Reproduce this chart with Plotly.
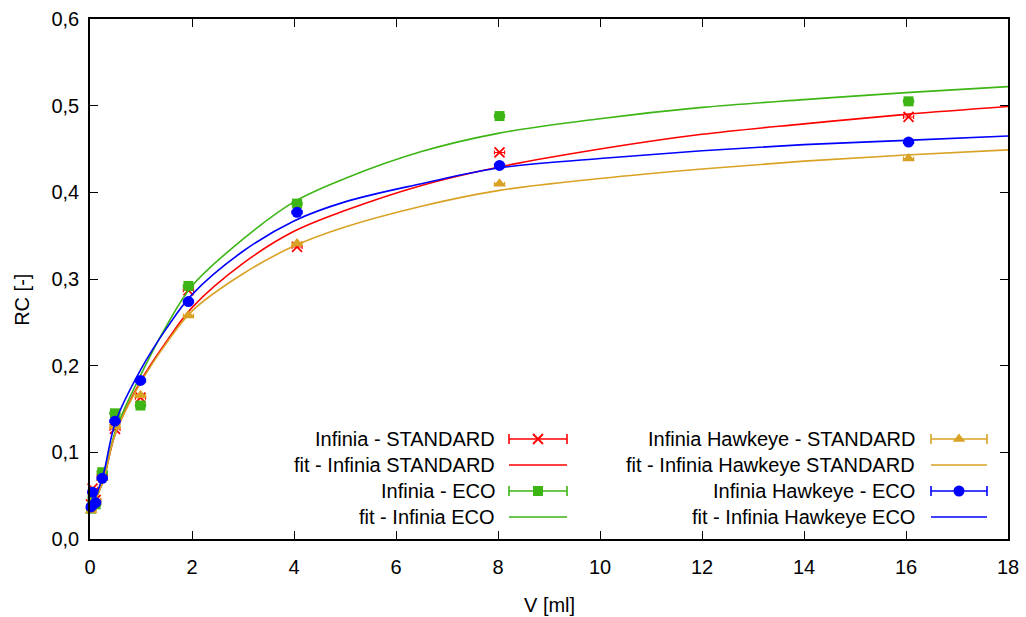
import plotly.graph_objects as go

# ---- data ----
V = [0.02, 0.05, 0.11, 0.24, 0.49, 0.99, 1.93, 4.06, 8.03, 16.05]
V_err = [0.1, 0.1, 0.1, 0.1, 0.1, 0.1, 0.1, 0.1, 0.1, 0.1]

rc_inf_std = [0.040, 0.058, 0.045, 0.073, 0.127, 0.163, 0.287, 0.337, 0.446, 0.487]
rc_inf_eco = [0.035, 0.045, 0.040, 0.077, 0.145, 0.154, 0.292, 0.387, 0.488, 0.505]
rc_hawk_std = [0.033, 0.040, 0.045, 0.070, 0.130, 0.166, 0.258, 0.341, 0.410, 0.439]
rc_hawk_eco = [0.037, 0.054, 0.042, 0.070, 0.136, 0.183, 0.274, 0.377, 0.431, 0.458]

V_fit = [0, 0.25, 0.5, 1, 1.5, 2, 3, 4, 5, 6.5, 8, 10, 12, 14, 16, 18]
fit_inf_std = [0.033, 0.066, 0.122, 0.183, 0.228, 0.267, 0.318, 0.355, 0.379, 0.408, 0.429, 0.450, 0.467, 0.479, 0.490, 0.499]
fit_inf_eco = [0.033, 0.066, 0.125, 0.190, 0.246, 0.292, 0.346, 0.389, 0.416, 0.447, 0.468, 0.485, 0.498, 0.507, 0.515, 0.522]
fit_hawk_std = [0.033, 0.066, 0.122, 0.181, 0.226, 0.263, 0.306, 0.338, 0.360, 0.384, 0.402, 0.416, 0.427, 0.436, 0.443, 0.449]
fit_hawk_eco = [0.033, 0.072, 0.135, 0.196, 0.243, 0.282, 0.332, 0.367, 0.389, 0.410, 0.428, 0.439, 0.448, 0.455, 0.460, 0.465]

x_ticks = [0, 2, 4, 6, 8, 10, 12, 14, 16, 18]
y_ticks = [0.0, 0.1, 0.2, 0.3, 0.4, 0.5, 0.6]

labels = ["Infinia - STANDARD", "fit - Infinia STANDARD",
          "Infinia - ECO", "fit - Infinia ECO",
          "Infinia Hawkeye - STANDARD", "fit - Infinia Hawkeye STANDARD",
          "Infinia Hawkeye - ECO", "fit - Infinia Hawkeye ECO"]
x_title = "V [ml]"
y_title = "RC [-]"

RED = "#ff0000"
GREEN = "#3cb515"
GOLD = "#d9a224"
BLUE = "#0000ff"

series = [
    (rc_inf_std, fit_inf_std, RED, "x-thin", 10),
    (rc_inf_eco, fit_inf_eco, GREEN, "square", 10),
    (rc_hawk_std, fit_hawk_std, GOLD, "triangle-up", 11),
    (rc_hawk_eco, fit_hawk_eco, BLUE, "circle", 11),
]

FONT = "Liberation Sans"
FS = 20

fig = go.Figure()

for rc, fit, col, sym, size in series:
    mk = dict(symbol=sym, size=size, color=col)
    if sym == "x-thin":
        mk["line"] = dict(color=col, width=1.8)
    fig.add_trace(go.Scatter(
        x=V, y=rc, mode="markers", marker=mk, cliponaxis=False,
        error_x=dict(type="data", array=V_err, color=col, thickness=1.1, width=2),
        showlegend=False))
    fig.add_trace(go.Scatter(
        x=V_fit, y=fit, mode="lines", line=dict(color=col, width=1.6, shape="spline"),
        showlegend=False))

# ---- custom legend (text right-aligned, sample on the right), in pixel-like overlay axis ----
shapes = []
annotations = []
legend_pts = []
col_text_x = [497, 917]
col_samp = [(509, 567), (931, 987)]
row_y0, row_dy = 439, 26
for i, lab in enumerate(labels):
    c = i // 4
    r = i % 4
    yy = row_y0 + row_dy * r
    _, _, col, sym, size = series[i // 2]
    annotations.append(dict(x=col_text_x[c], y=yy, xref="x2", yref="y2", text=lab,
                            showarrow=False, xanchor="right", yanchor="middle",
                            font=dict(family=FONT, size=FS, color="#000000")))
    x0, x1 = col_samp[c]
    shapes.append(dict(type="line", xref="x2", yref="y2", x0=x0, x1=x1, y0=yy, y1=yy,
                       line=dict(color=col, width=1.6)))
    if i % 2 == 0:
        for xe in (x0, x1):
            shapes.append(dict(type="line", xref="x2", yref="y2", x0=xe, x1=xe,
                               y0=yy - 5, y1=yy + 5, line=dict(color=col, width=1.6)))
        legend_pts.append(((x0 + x1) / 2, yy, sym, col, size))

for mx, my, sym, col, size in legend_pts:
    mk = dict(symbol=sym, size=size, color=col)
    if sym == "x-thin":
        mk["line"] = dict(color=col, width=1.8)
    fig.add_trace(go.Scatter(x=[mx], y=[my], xaxis="x2", yaxis="y2", mode="markers",
                             marker=mk, showlegend=False, hoverinfo="skip"))

# axis titles (paper coordinates)
annotations.append(dict(x=0.5, y=-0.127, xref="paper", yref="paper", text=x_title,
                        showarrow=False, xanchor="center", yanchor="middle",
                        font=dict(family=FONT, size=FS, color="#000000")))
annotations.append(dict(x=-0.074, y=0.46, xref="paper", yref="paper", text=y_title,
                        showarrow=False, xanchor="center", yanchor="middle", textangle=-90,
                        font=dict(family=FONT, size=FS, color="#000000")))

axis_common = dict(showline=True, linecolor="#000000", linewidth=1.5, mirror="allticks",
                   ticks="inside", ticklen=8, tickwidth=1.3, tickcolor="#000000",
                   showgrid=False, zeroline=False, automargin=False,
                   tickfont=dict(family=FONT, size=FS, color="#000000"))

fig.update_layout(
    width=1026, height=617,
    margin=dict(l=90, r=18, t=19, b=78),
    paper_bgcolor="#ffffff", plot_bgcolor="#ffffff",
    separators=", ",
    showlegend=False,
    xaxis=dict(range=[0, 18], tickvals=x_ticks, ticklabelstandoff=9, **axis_common),
    yaxis=dict(range=[0, 0.6], tickvals=y_ticks, tickformat=".1f", ticklabelstandoff=5,
               **axis_common),
    xaxis2=dict(overlaying="x", range=[90, 1008], visible=False, fixedrange=True),
    yaxis2=dict(overlaying="y", range=[539, 19], visible=False, fixedrange=True),
    shapes=shapes,
    annotations=annotations,
)

fig.write_html("out.html")
